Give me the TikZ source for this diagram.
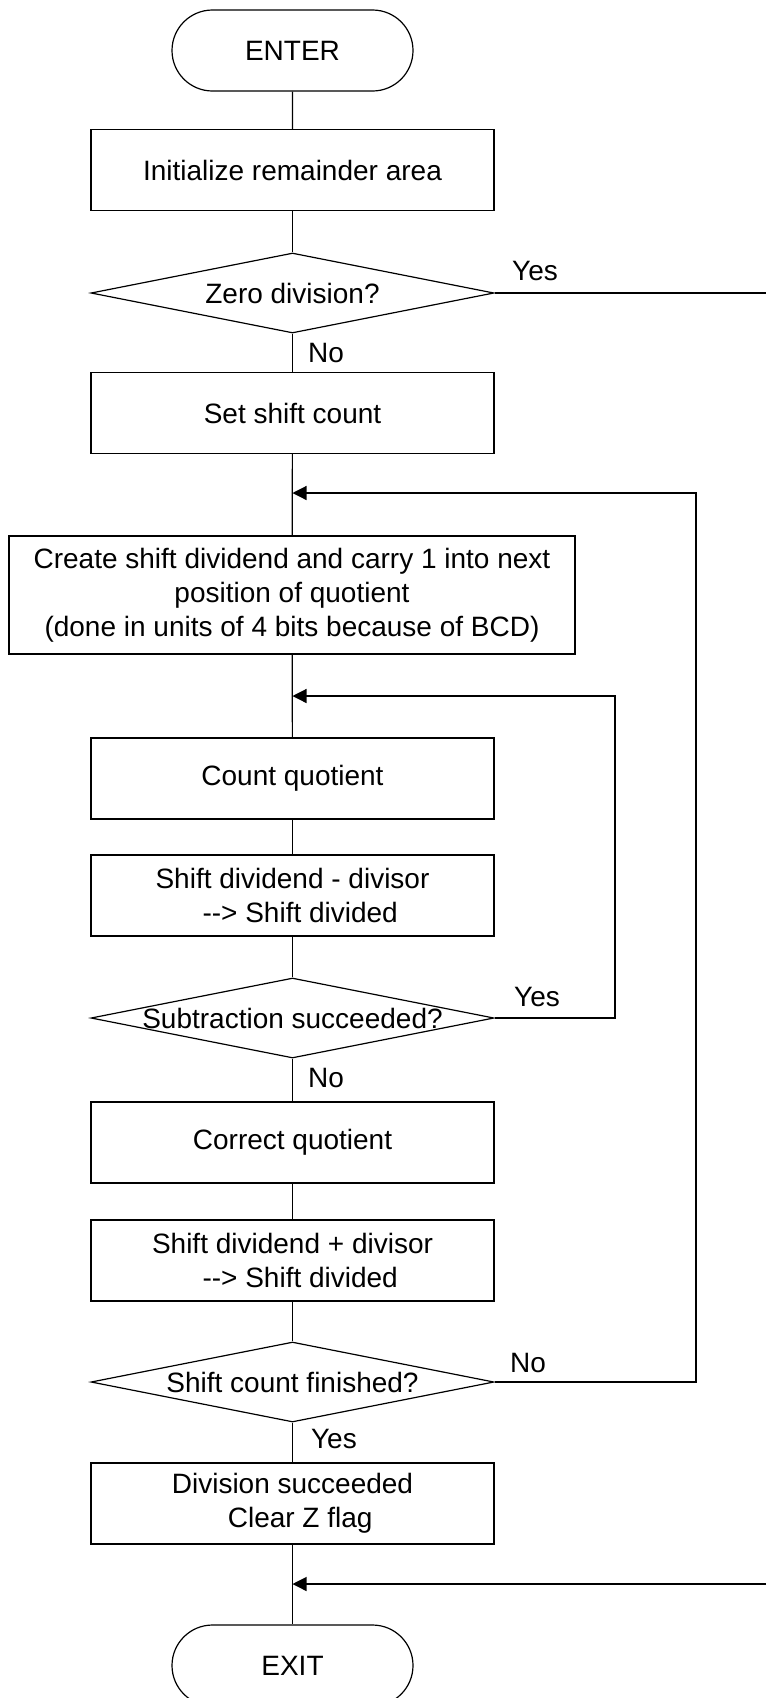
\documentclass[tikz,border=0pt]{standalone}
\usepackage{fontspec}
\setmainfont{Liberation Sans}
\usetikzlibrary{shapes.geometric,shapes.misc,arrows.meta}

\tikzset{
    process/.style={draw, rectangle, minimum width=201.5pt, minimum height=40.5pt, inner sep=0pt, align=center},
    decision/.style={draw, diamond, minimum width=201.5pt, minimum height=40pt, inner sep=0pt},
    terminal/.style={draw, rounded rectangle, minimum width=120.5pt, minimum height=40.5pt, inner sep=0pt},
    tag/.style={inner sep=0pt, anchor=base west},
    flow/.style={-{Triangle[length=7pt,width=7pt]}}
}

\begin{document}
\begin{tikzpicture}[x=0.5pt, y=-0.5pt, line width=0.6pt, font=\fontsize{14}{17}\selectfont]

\useasboundingbox (0,0) rectangle (766,1698);

% Main column
\node[terminal] (enter) at (292.5, 50.5) {ENTER};
\node[process] (init) at (292.5, 170) {Initialize remainder area};
\node[decision] (zero) at (292.5, 293) {\makebox[0pt]{Zero division?}};
\node[process] (setcnt) at (292.5, 413) {Set shift count};
\node[process, minimum width=283pt, minimum height=59pt] (create) at (292, 595)
    {Create shift dividend and carry 1 into next\\position of quotient\\(done in units of 4 bits because of BCD)};
\node[process] (count) at (292.5, 778.5) {Count quotient};
\node[process] (sub) at (292.5, 895.5) {Shift dividend - divisor\\\hspace*{0.55em}{-}{-}> Shift divided};
\node[decision] (succ) at (292.5, 1018) {\makebox[0pt]{Subtraction succeeded?}};
\node[process] (corr) at (292.5, 1142.5) {Correct quotient};
\node[process] (add) at (292.5, 1260.5) {Shift dividend + divisor\\\hspace*{0.55em}{-}{-}> Shift divided};
\node[decision] (fin) at (292.5, 1382) {\makebox[0pt]{Shift count finished?}};
\node[process] (done) at (292.5, 1503.5) {Division succeeded\\\hspace*{0.55em}Clear Z flag};
\node[terminal] (exit) at (292.5, 1665.5) {EXIT};

% Junctions and loop corners
\coordinate (loop1) at (292.5, 493);
\coordinate (loop2) at (292.5, 696);
\coordinate (join) at (292.5, 1584);
\coordinate (outer) at (696, 493);
\coordinate (inner) at (615, 696);
\coordinate (zeroout) at (766, 293);
\coordinate (exitin) at (766, 1584);

% Straight flow down the column
\draw (enter) -- (init);
\draw (init) -- (zero);
\draw (zero) -- (setcnt);
\draw (setcnt) -- (create);
\draw (create) -- (count);
\draw (count) -- (sub);
\draw (sub) -- (succ);
\draw (succ) -- (corr);
\draw (corr) -- (add);
\draw (add) -- (fin);
\draw (fin) -- (done);
\draw (done) -- (exit);

% Branches
\draw (zero.east) -- (zeroout);
\draw[flow] (succ.east) -| (inner) -- (loop2);
\draw[flow] (fin.east) -| (outer) -- (loop1);
\draw[flow] (exitin) -- (join);

% Branch labels
\node[tag] (zeroyes) at ([shift={(8.5pt,6.5pt)}]zero.east) {Yes};
\node[tag] (zerono) at ([shift={(7.5pt,-14.5pt)}]zero.south) {No};
\node[tag] (succyes) at ([shift={(9.5pt,6pt)}]succ.east) {Yes};
\node[tag] (succno) at ([shift={(7.5pt,-14.5pt)}]succ.south) {No};
\node[tag] (finno) at ([shift={(7.5pt,5pt)}]fin.east) {No};
\node[tag] (finyes) at ([shift={(9pt,-13pt)}]fin.south) {Yes};

\end{tikzpicture}
\end{document}
